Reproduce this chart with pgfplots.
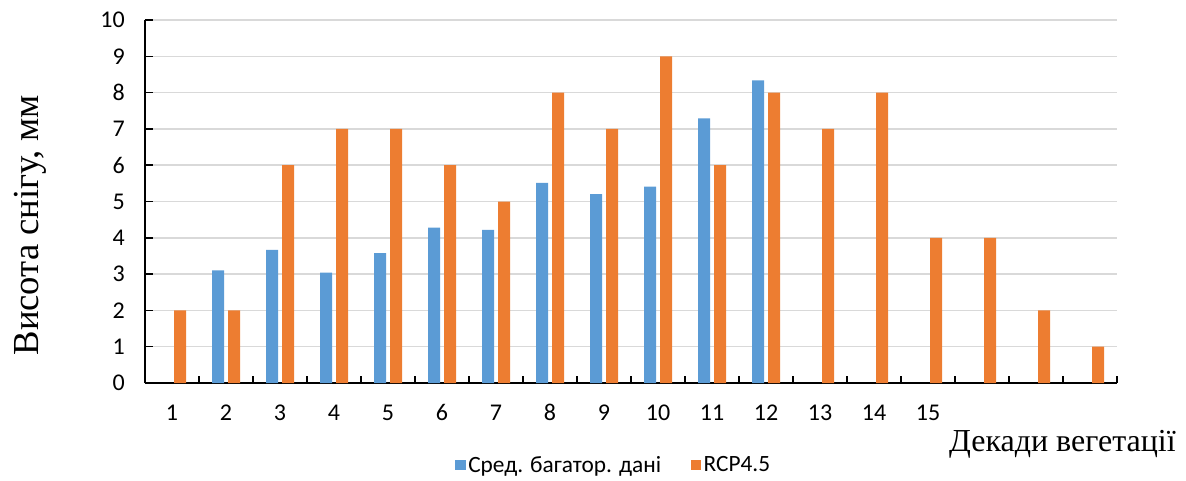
\documentclass[border=0pt]{standalone}
\usepackage{fontspec}
\setmainfont{Liberation Serif}
\newfontfamily\carlito{Carlito}
\usepackage{pgfplots}
\pgfplotsset{compat=1.18}
\definecolor{cblue}{HTML}{5B9BD5}
\definecolor{corange}{HTML}{ED7D31}
\definecolor{cgrid}{HTML}{D9D9D9}
\begin{document}
\begin{tikzpicture}
\path[use as bounding box] (0,0) rectangle (889.5pt,360pt);
\begin{axis}[
  at={(108.75pt,72.75pt)}, anchor=south west,
  scale only axis, width=729pt, height=272.25pt,
  ybar=3pt, bar width=9pt,
  xmin=0.5, xmax=18.5, ymin=0, ymax=10,
  axis lines=left, axis line style={-, line width=1.1pt},
  tick align=inside,
  xtick={1,...,15}, major x tick style={draw=none},
  minor xtick={0.5,1.5,...,18.5},
  minor tick length=5.5pt,
  ytick={0,...,10}, major tick length=6pt,
  tick style={black, line width=1.1pt},
  ymajorgrids, grid style={cgrid, line width=1.1pt},
  /pgf/number format/assume math mode=true,
  ticklabel style={font=\carlito\fontsize{18}{21}\selectfont},
  xticklabel style={anchor=base, yshift=-28pt},
  yticklabel style={anchor=east, inner sep=0pt, xshift=-15pt},
  xlabel={Декади вегетації},
  xlabel style={at={(axis description cs:1.0607,-0.190)}, anchor=base east, inner sep=0pt, font=\fontsize{24}{28}\selectfont},
  ylabel={Висота снігу, мм},
  ylabel style={at={(axis description cs:-0.1183,0.435)}, anchor=center, font=\fontsize{27.5}{30}\selectfont},
  legend style={at={(axis description cs:0.4825,-0.226)}, anchor=center, draw=none, fill=none,
    font=\carlito\fontsize{17.5}{20}\selectfont, legend columns=2,
    /tikz/every even column/.append style={column sep=20pt}},
  legend image code/.code={\fill[#1] (-3.5pt,-3.9pt) rectangle (4.3pt,3.9pt);},
]
\addplot[fill=cblue, draw=none] coordinates {
 (2,3.10) (3,3.67) (4,3.04) (5,3.58) (6,4.28) (7,4.22) (8,5.51) (9,5.20) (10,5.41) (11,7.29) (12,8.34)};
\addlegendentry{Сред. багатор. дані}
\addplot[fill=corange, draw=none] coordinates {
 (1,2) (2,2) (3,6) (4,7) (5,7) (6,6) (7,5) (8,8) (9,7) (10,9) (11,6) (12,8) (13,7) (14,8) (15,4) (16,4) (17,2) (18,1)};
\addlegendentry{RCP4.5}
\end{axis}
\end{tikzpicture}
\end{document}
